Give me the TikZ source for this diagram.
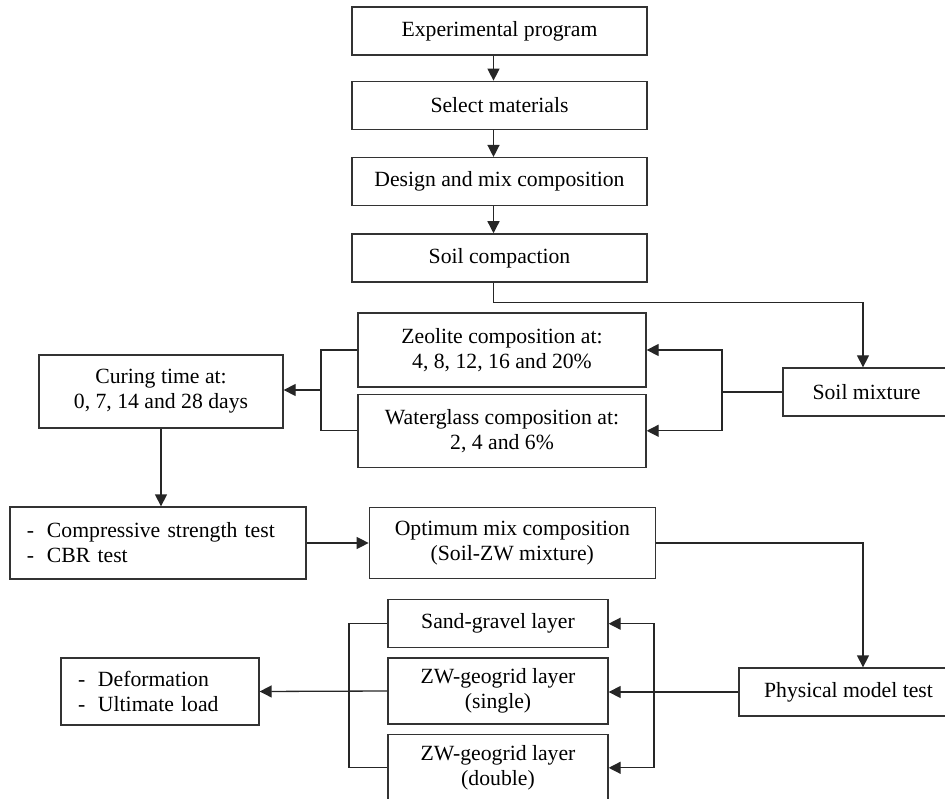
\documentclass[tikz,border=0pt]{standalone}
\usepackage{fontspec}
\setmainfont{Liberation Serif}
\usepackage{tikz}
\usetikzlibrary{arrows.meta,positioning,calc}

\newcommand{\itemdash}{\makebox[20pt][l]{-}}

\begin{document}
\begin{tikzpicture}[
  x=1pt, y=-1pt,
  >={Triangle[length=12pt,width=12pt]},
  box/.style={draw=black!80, line width=1.3pt, inner sep=2pt, minimum height=48pt,
    font=\fontsize{21.7pt}{25pt}\selectfont, align=center},
  stepbox/.style={box, minimum width=295pt},
  listbox/.style={box, align=left, inner xsep=17pt},
  arr/.style={->, line width=1.3pt, color=black!85},
  line/.style={line width=1.3pt, color=black!85},
]
\useasboundingbox (0,0) rectangle (945,799);

% Main sequence
\node[stepbox] (exp) at (499.5,31) {Experimental program};
\node[stepbox, below=25pt of exp] (sel) {Select materials};
\node[stepbox, below=27pt of sel] (des) {Design and mix composition};
\node[stepbox, below=27pt of des] (comp) {Soil compaction};

% Mixture and compositions
\node[box, minimum width=167pt] (mix) at (866.5,392) {Soil mixture};
\node[box, minimum width=288pt, minimum height=74pt] (zeo) at (502,350) {Zeolite composition at:\\4, 8, 12, 16 and 20\%};
\node[box, minimum width=288pt, minimum height=73pt, below=6pt of zeo] (wat) {Waterglass composition at:\\2, 4 and 6\%};
\node[box, minimum width=244pt, minimum height=73pt] (cur) at (161,391.5) {Curing time at:\\0, 7, 14 and 28 days};

% Tests
\node[listbox, text width=262pt, minimum height=72pt] (ctest) at (158,543) {\itemdash Compressive strength test\\\itemdash CBR test};
\node[box, minimum width=286pt, minimum height=71pt, right=62pt of ctest] (opt) {Optimum mix composition\\(Soil-ZW mixture)};

% Physical model
\node[box, minimum width=219pt] (phys) at (848.5,692) {Physical model test};
\node[box, minimum width=220pt, minimum height=66pt] (single) at (498,691) {ZW-geogrid layer\\(single)};
\node[box, minimum width=220pt, above=9pt of single] (sand) {Sand-gravel layer};
\node[box, minimum width=220pt, minimum height=67pt, below=9pt of single] (double) {ZW-geogrid layer\\(double)};
\node[listbox, text width=164pt, minimum height=67pt] (def) at (160,691.5) {\itemdash Deformation\\\itemdash Ultimate load};

% Junctions
\coordinate (sr) at (722,392);
\coordinate (sl) at (321,390);
\coordinate (pr) at (654,692);
\coordinate (pl) at (349,692);

% Arrows
\draw[arr] ([xshift=-6pt]exp.south) -- ([xshift=-6pt]sel.north);
\draw[arr] ([xshift=-6pt]sel.south) -- ([xshift=-6pt]des.north);
\draw[arr] ([xshift=-6pt]des.south) -- ([xshift=-6pt]comp.north);
\draw[arr] ([xshift=-6pt]comp.south) -- ++(0,20) -| ([xshift=-3.5pt]mix.north);
\draw[line] (mix.west) -- (sr);
\draw[arr] (sr) |- (zeo.east);
\draw[arr] (sr) |- (wat.east);
\draw[line] (zeo.west) -| (sl) |- (wat.west);
\draw[arr] (sl) -- (cur.east |- sl);
\draw[arr] (cur.south) -- (cur.south |- ctest.north);
\draw[arr] (ctest.east) -- (ctest.east -| opt.west);
\draw[arr] (opt.east) -| ([xshift=14.5pt]phys.north);
\draw[arr] (phys.west) -- (phys.west -| single.east);
\draw[arr] (pr) |- (sand.east);
\draw[arr] (pr) |- (double.east);
\draw[line] (sand.west) -| (pl) |- (double.west);
\draw[arr] (single.west) -- (def.east);
\end{tikzpicture}
\end{document}
